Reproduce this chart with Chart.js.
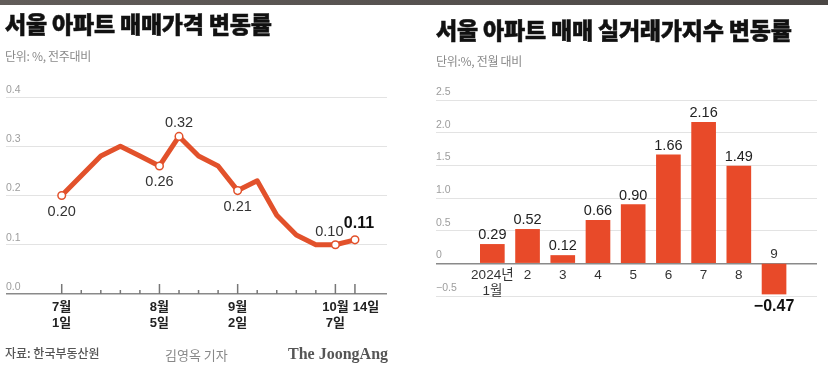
<!DOCTYPE html>
<html>
<head>
<meta charset="utf-8">
<script src="https://cdn.jsdelivr.net/npm/chart.js@4/dist/chart.umd.min.js"></script>
<style>
  body { margin: 0; width: 828px; height: 368px; background: #fff; position: relative; overflow: hidden;
         font-family: "Liberation Sans", "Noto Sans CJK KR", sans-serif; }
  .topband { position: absolute; left: 0; top: 0; width: 828px; height: 5px;
             background: linear-gradient(to right, #625d5a, #4b4745); }
  .t { position: absolute; white-space: nowrap; z-index: 2; line-height: 1; }
  .title { font-family: "Noto Sans CJK KR", sans-serif; font-weight: 900; font-size: 23px; color: #111;
           letter-spacing: -0.2px; -webkit-text-stroke: 0.5px #111; }
  .sub { font-family: "Noto Sans CJK KR", sans-serif; font-size: 12px; color: #8a8a8a; letter-spacing: -0.3px; }
  canvas { position: absolute; top: 0; }
</style>
</head>
<body>
<div class="topband"></div>
<div class="t title" style="left:5px;top:12px">서울 아파트 매매가격 변동률</div>
<div class="sub t" style="left:5px;top:50px">단위: %, 전주대비</div>
<div class="t title" style="left:436px;top:18px">서울 아파트 매매 실거래가지수 변동률</div>
<div class="sub t" style="left:436px;top:55px">단위:%, 전월 대비</div>
<div class="t" style="left:5px;top:347px;font-family:'Noto Sans CJK KR';font-size:12px;color:#555;font-weight:500">자료: 한국부동산원</div>
<div class="t" style="left:165px;top:348px;font-family:'Noto Sans CJK KR';font-size:13px;color:#888">김영옥 기자</div>
<div class="t" style="left:288px;top:346px;font-family:'Liberation Serif',serif;font-weight:700;font-size:16px;color:#555">The JoongAng</div>

<canvas id="lineChart" width="414" height="368" style="left:0"></canvas>
<canvas id="barChart" width="414" height="368" style="left:414px"></canvas>

<script>
// weekly change, Seoul apartment prices (vs previous week)
const weeks = ['7/1', '7/8', '7/15', '7/22', '7/29', '8/5', '8/12', '8/19', '8/26',
               '9/2', '9/9', '9/16', '9/23', '9/30', '10/7', '10/14'];
const weeklyChange = [0.20, 0.24, 0.28, 0.30, 0.28, 0.26, 0.32, 0.28, 0.26,
                      0.21, 0.23, 0.16, 0.12, 0.10, 0.10, 0.11];
const weekRow1 = ['7월', '', '', '', '', '8월', '', '', '', '9월', '', '', '', '', '10월', '14일'];
const weekRow2 = ['1일', '', '', '', '', '5일', '', '', '', '2일', '', '', '', '', '7일', ''];
const labelledWeeks = [0, 5, 6, 9, 14, 15];
const lineYTicks = [0, 0.1, 0.2, 0.3, 0.4];
const lineYLabels = ['0.0', '0.1', '0.2', '0.3', '0.4'];

// monthly change, Seoul apartment real transaction price index (vs previous month)
const months = ['2024년 1월', '2', '3', '4', '5', '6', '7', '8', '9'];
const monthRow1 = ['2024년', '2', '3', '4', '5', '6', '7', '8', '9'];
const monthRow2 = ['1월', '', '', '', '', '', '', '', ''];
const monthlyChange = [0.29, 0.52, 0.12, 0.66, 0.90, 1.66, 2.16, 1.49, -0.47];
const barYTicks = [-0.5, 0, 0.5, 1.0, 1.5, 2.0, 2.5];
const barYLabels = ['−0.5', '0', '0.5', '1.0', '1.5', '2.0', '2.5'];

const ORANGE = '#e2512b';
const BAR = '#e84a29';
const NUM = '"Liberation Sans", "Noto Sans CJK KR", sans-serif';

function yLabels(values, labels, dy) {
  return {
    id: 'yLabels',
    afterDraw(chart) {
      const ctx = chart.ctx, ys = chart.scales.y, a = chart.chartArea;
      ctx.save();
      ctx.font = '10.5px ' + NUM;
      ctx.fillStyle = '#9d9d9d';
      ctx.textAlign = 'left';
      ctx.textBaseline = 'middle';
      values.forEach((v, i) => ctx.fillText(labels[i], a.left, ys.getPixelForValue(v) + dy));
      ctx.restore();
    }
  };
}

// week axis ticks, x labels and value labels for the line
const lineDecor = {
  id: 'lineDecor',
  afterDraw(chart) {
    const ctx = chart.ctx, xs = chart.scales.x, ys = chart.scales.y;
    const y0 = ys.getPixelForValue(0);
    ctx.save();
    ctx.strokeStyle = '#777';
    ctx.lineWidth = 1.5;
    weeks.forEach((w, i) => {
      const x = xs.getPixelForValue(i);
      const len = weekRow1[i] ? 10 : 4;
      ctx.beginPath();
      ctx.moveTo(x, y0);
      ctx.lineTo(x, y0 - len);
      ctx.stroke();
    });
    ctx.fillStyle = '#222';
    ctx.textAlign = 'center';
    ctx.textBaseline = 'middle';
    ctx.font = '600 13px ' + NUM;
    weeks.forEach((w, i) => {
      const x = xs.getPixelForValue(i) + (i === 15 ? 11 : 0);
      if (weekRow1[i]) ctx.fillText(weekRow1[i], x, y0 + 13);
      if (weekRow2[i]) ctx.fillText(weekRow2[i], x, y0 + 29);
    });

    const pts = chart.getDatasetMeta(0).data;
    labelledWeeks.forEach(i => {
      const p = pts[i];
      const txt = weeklyChange[i].toFixed(2);
      ctx.fillStyle = '#333';
      ctx.font = '14.5px ' + NUM;
      let x = p.x, y;
      if (i === 6) y = p.y - 13;
      else if (i === 14) { x = p.x - 6; y = p.y - 13; }
      else if (i === 15) { x = p.x + 4; y = p.y - 16; ctx.font = 'bold 16px ' + NUM; ctx.fillStyle = '#111'; }
      else y = p.y + 16;
      ctx.fillText(txt, x, y);
    });
    ctx.restore();
  }
};

// month labels and value labels for the bars
const barDecor = {
  id: 'barDecor',
  afterDraw(chart) {
    const ctx = chart.ctx, xs = chart.scales.x, ys = chart.scales.y;
    const y0 = ys.getPixelForValue(0);
    const bars = chart.getDatasetMeta(0).data;
    ctx.save();
    ctx.textAlign = 'center';
    monthlyChange.forEach((v, i) => {
      const b = bars[i];
      const x = xs.getPixelForValue(i);
      ctx.textBaseline = 'middle';
      ctx.fillStyle = '#333';
      ctx.font = '13.5px ' + NUM;
      if (v >= 0) {
        ctx.fillText(monthRow1[i], x, y0 + 12);
        if (monthRow2[i]) ctx.fillText(monthRow2[i], x, y0 + 28);
        ctx.textBaseline = 'alphabetic';
        ctx.fillStyle = '#222';
        ctx.font = '14.5px ' + NUM;
        ctx.fillText(v.toFixed(2), b.x, b.y - 5);
      } else {
        ctx.fillText(monthRow1[i], x, y0 - 9);
        ctx.textBaseline = 'alphabetic';
        ctx.fillStyle = '#111';
        ctx.font = 'bold 16px ' + NUM;
        ctx.fillText('−' + Math.abs(v).toFixed(2), b.x, b.y + 17);
      }
    });
    ctx.restore();
  }
};

const gridOpts = {
  drawTicks: false,
  color: c => (c.tick.value === 0 ? '#8a8a8a' : '#e3e3e3'),
  lineWidth: c => (c.tick.value === 0 ? 1.5 : 1)
};

new Chart(document.getElementById('lineChart'), {
  type: 'line',
  data: {
    datasets: [{
      data: weeklyChange.map((v, i) => ({ x: i, y: v })),
      borderColor: ORANGE,
      borderWidth: 5,
      borderJoinStyle: 'round',
      borderCapStyle: 'round',
      tension: 0,
      clip: false,
      pointRadius: c => (labelledWeeks.includes(c.dataIndex) ? 3.8 : 0),
      pointBackgroundColor: '#fff',
      pointBorderColor: ORANGE,
      pointBorderWidth: 1.5
    }]
  },
  options: {
    responsive: false,
    animation: false,
    layout: { padding: { left: 6, right: 27, top: 97, bottom: 74 } },
    plugins: { legend: { display: false }, tooltip: { enabled: false } },
    scales: {
      x: { type: 'linear', display: false, min: -2.85, max: 16.64 },
      y: { min: 0, max: 0.4, ticks: { display: false, stepSize: 0.1 }, grid: gridOpts, border: { display: false } }
    }
  },
  plugins: [yLabels(lineYTicks, lineYLabels, -7), lineDecor]
});

new Chart(document.getElementById('barChart'), {
  type: 'bar',
  data: {
    datasets: [{
      data: monthlyChange.map((v, i) => ({ x: i, y: v })),
      backgroundColor: BAR,
      barThickness: 24
    }]
  },
  options: {
    responsive: false,
    animation: false,
    layout: { padding: { left: 22, right: 11, top: 100, bottom: 72 } },
    plugins: { legend: { display: false }, tooltip: { enabled: false } },
    scales: {
      x: { type: 'linear', display: false, offset: false, min: -1.6, max: 9.22 },
      y: { min: -0.5, max: 2.5, ticks: { display: false, stepSize: 0.5 }, grid: gridOpts, border: { display: false } }
    }
  },
  plugins: [yLabels(barYTicks, barYLabels, -8), barDecor]
});
</script>
</body>
</html>
